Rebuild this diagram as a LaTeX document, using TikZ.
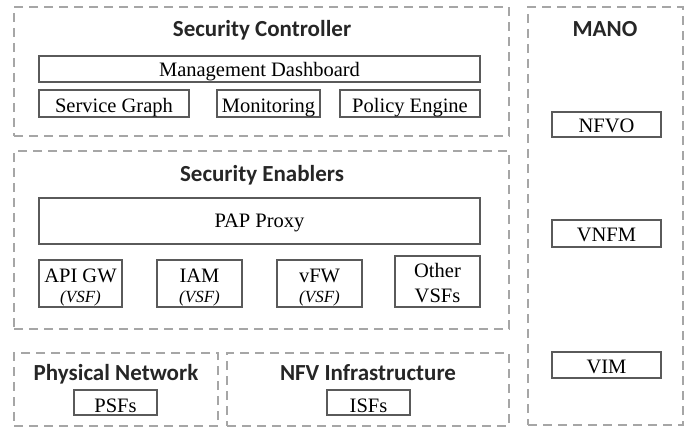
\documentclass[tikz,border=0pt]{standalone}
\usepackage{fontspec}
\setmainfont{Liberation Serif}
\newfontfamily\headfont{Carlito}
\definecolor{dashgray}{HTML}{A6A6A6}
\definecolor{boxgray}{HTML}{5A5A5A}
\definecolor{headcol}{HTML}{262626}
\begin{document}
\begin{tikzpicture}[x=1pt,y=-1pt,
  group/.style={draw=dashgray,line width=2.4pt,dash pattern=on 9pt off 6pt,rectangle,inner sep=0pt},
  box/.style={draw=boxgray,line width=2pt,rectangle,inner sep=0pt},
  lbl/.style={font=\fontsize{20.5}{24}\selectfont,inner sep=0pt,anchor=base},
  head/.style={font=\headfont\bfseries\fontsize{23}{26}\selectfont,text=headcol,inner sep=0pt,anchor=base},
  vsf/.style={font=\itshape\fontsize{17}{18}\selectfont,inner sep=0pt,anchor=base}]
\useasboundingbox (0,0) rectangle (688,428);
% groups
\node[group,minimum width=495pt,minimum height=129pt] (sc) at (261.5,71.5) {};
\node[group,minimum width=495pt,minimum height=178pt] (se) at (261.5,240) {};
\node[group,minimum width=204pt,minimum height=73pt] (pn) at (116,389.5) {};
\node[group,minimum width=282pt,minimum height=73pt] (nfvi) at (368,389.5) {};
\node[group,minimum width=155pt,minimum height=418pt] (mano) at (605.5,216) {};
% titles
\node[head] (tsc) at (262,37) {Security Controller};
\node[head] (tse) at (262,181) {Security Enablers};
\node[head] (tpn) at (116,380) {Physical Network};
\node[head] (tnfvi) at (368,380) {NFV Infrastructure};
\node[head] (tmano) at (605,37) {MANO};
% security controller
\node[box,minimum width=441pt,minimum height=26pt] (md) at (259.5,69) {};
\node[lbl] (mdt) at (259.5,77) {Management Dashboard};
\node[box,minimum width=150pt,minimum height=27pt] (sg) at (114,103.5) {};
\node[lbl] (sgt) at (114,112) {Service Graph};
\node[box,minimum width=103pt,minimum height=27pt] (mon) at (268.5,103.5) {};
\node[lbl] (mont) at (268.5,112) {Monitoring};
\node[box,minimum width=140pt,minimum height=27pt] (pe) at (410,103.5) {};
\node[lbl] (pet) at (410,112) {Policy Engine};
% security enablers
\node[box,minimum width=441pt,minimum height=46pt] (pap) at (259.5,221) {};
\node[lbl] (papt) at (259.5,227) {PAP Proxy};
\node[box,minimum width=83pt,minimum height=47pt] (api) at (80.5,283.5) {};
\node[box,minimum width=85pt,minimum height=47pt] (iam) at (199.5,283.5) {};
\node[box,minimum width=85pt,minimum height=47pt] (vfw) at (319.5,283.5) {};
\node[box,minimum width=85pt,minimum height=51pt] (oth) at (437.5,281.5) {};
\node[lbl] (apit) at (80.5,282) {API GW};
\node[vsf] (apiv) at (80.5,302) {(VSF)};
\node[lbl] (iamt) at (199.5,282) {IAM};
\node[vsf] (iamv) at (199.5,302) {(VSF)};
\node[lbl] (vfwt) at (319.5,282) {vFW};
\node[vsf] (vfwv) at (319.5,302) {(VSF)};
\node[lbl] (otht) at (437.5,277) {Other};
\node[lbl] (othv) at (437.5,302) {VSFs};
% bottom
\node[box,minimum width=83pt,minimum height=25pt] (psf) at (115.5,402.5) {};
\node[lbl] (psft) at (115.5,412) {PSFs};
\node[box,minimum width=83pt,minimum height=25pt] (isf) at (368.5,402.5) {};
\node[lbl] (isft) at (368.5,412) {ISFs};
% mano
\node[box,minimum width=109pt,minimum height=25pt] (nfvo) at (606.5,124.5) {};
\node[lbl] (nfvot) at (606.5,132) {NFVO};
\node[box,minimum width=109pt,minimum height=27pt] (vnfm) at (606.5,233.5) {};
\node[lbl] (vnfmt) at (606.5,241) {VNFM};
\node[box,minimum width=109pt,minimum height=26pt] (vim) at (606.5,365) {};
\node[lbl] (vimt) at (606.5,373) {VIM};
\end{tikzpicture}
\end{document}
